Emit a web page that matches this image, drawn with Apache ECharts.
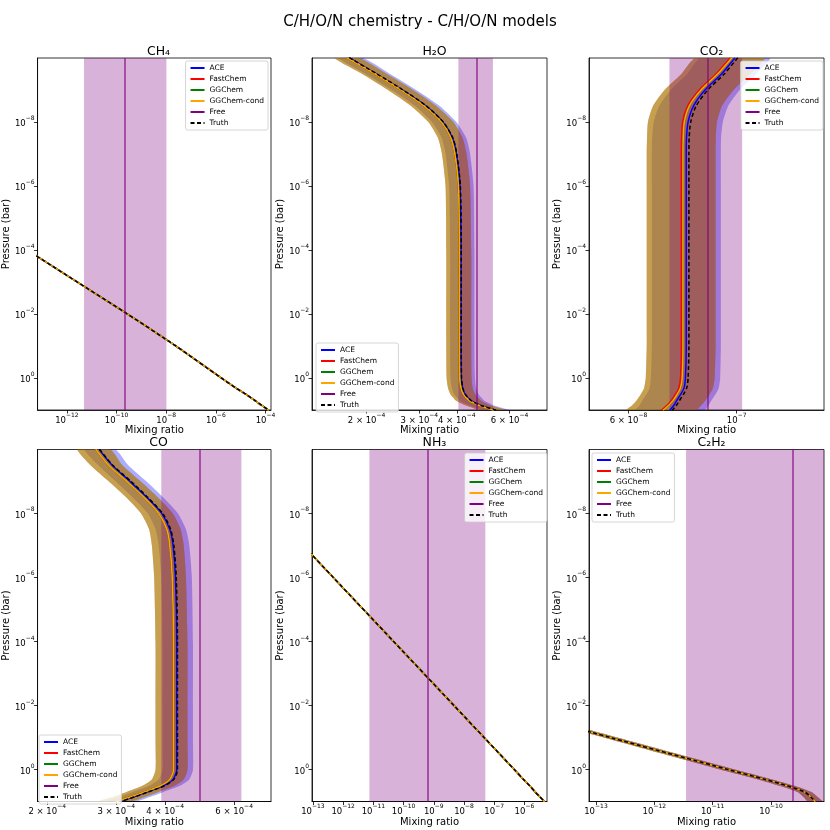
<!DOCTYPE html>
<html>
<head>
<meta charset="utf-8">
<script src="https://cdn.jsdelivr.net/npm/echarts@6.0.0/dist/echarts.min.js"></script>
<style>
  html, body { margin: 0; padding: 0; background: #fff; }
  #main { width: 830px; height: 830px; }
</style>
</head>
<body>
<div id="main"></div>
<script>
// pressure levels (bar) shared by every profile
const pressure = [1e-10, 3.16e-10, 1e-9, 3.16e-9, 1e-8, 3.16e-8, 1e-7, 1e-6, 1e-4, 1e-2, 1e-1, 1, 2, 3.16, 5, 7.08, 10];
const pressureLim = [1.02e-10, 9.8];
const pressureTicks = [1e-8, 1e-6, 1e-4, 1e-2, 1];

const modelNames = ['ACE', 'FastChem', 'GGChem', 'GGChem-cond'];
const modelColors = ['#0000ff', '#ff0000', '#008000', '#ffa500'];
const bandColors = ['rgba(0,0,255,0.32)', 'rgba(255,0,0,0.32)', 'rgba(0,128,0,0.32)', 'rgba(255,165,0,0.32)'];

// CH4
const ch4Truth = [null, null, null, null, null, null, null, 2.3e-18, 2.5e-14, 2.8e-10, 2.5e-8, 1.7e-6, 6.3e-6, 1.6e-5, 3.8e-5, 7.1e-5, 1.35e-4];
const ch4Free = [2.2e-10, 4.9e-12, 1.02e-8];
const ch4Lim = [6.6e-14, 1.66e-4];
const ch4Ticks = [1e-12, 1e-10, 1e-8, 1e-6, 1e-4];

// H2O
const h2oTruth = [1.75e-4, 2.16e-4, 2.64e-4, 3.16e-4, 3.60e-4, 3.88e-4, 4.00e-4, 4.11e-4, 4.14e-4, 4.14e-4, 4.14e-4, 4.15e-4, 4.19e-4, 4.27e-4, 4.47e-4, 4.82e-4, 5.41e-4];
const h2oAce = [1.75e-4, 2.15e-4, 2.63e-4, 3.15e-4, 3.59e-4, 3.87e-4, 3.99e-4, 4.10e-4, 4.13e-4, 4.13e-4, 4.13e-4, 4.14e-4, 4.18e-4, 4.26e-4, 4.46e-4, 4.81e-4, 5.40e-4];
const h2oEq = [1.72e-4, 2.13e-4, 2.60e-4, 3.11e-4, 3.55e-4, 3.82e-4, 3.94e-4, 4.05e-4, 4.08e-4, 4.08e-4, 4.08e-4, 4.09e-4, 4.13e-4, 4.21e-4, 4.40e-4, 4.75e-4, 5.33e-4];
const h2oAceLo = [1.61e-4, 1.98e-4, 2.42e-4, 2.90e-4, 3.30e-4, 3.56e-4, 3.67e-4, 3.77e-4, 3.80e-4, 3.80e-4, 3.80e-4, 3.81e-4, 3.85e-4, 3.92e-4, 4.10e-4, 4.43e-4, 4.97e-4];
const h2oAceHi = [1.94e-4, 2.39e-4, 2.92e-4, 3.50e-4, 3.98e-4, 4.30e-4, 4.43e-4, 4.55e-4, 4.58e-4, 4.58e-4, 4.58e-4, 4.60e-4, 4.64e-4, 4.73e-4, 4.95e-4, 5.34e-4, 5.99e-4];
const h2oEqLo = [1.56e-4, 1.93e-4, 2.35e-4, 2.81e-4, 3.21e-4, 3.46e-4, 3.57e-4, 3.67e-4, 3.69e-4, 3.69e-4, 3.69e-4, 3.70e-4, 3.74e-4, 3.81e-4, 3.98e-4, 4.30e-4, 4.82e-4];
const h2oEqHi = [1.88e-4, 2.33e-4, 2.85e-4, 3.41e-4, 3.89e-4, 4.18e-4, 4.31e-4, 4.43e-4, 4.47e-4, 4.47e-4, 4.47e-4, 4.48e-4, 4.52e-4, 4.61e-4, 4.82e-4, 5.20e-4, 5.84e-4];
const h2oFree = [4.64e-4, 4.05e-4, 5.28e-4];
const h2oLim = [1.315e-4, 8.0e-4];
const h2oTicks = [2e-4, 3e-4, 4e-4, 6e-4];

// CO2
const co2Truth = [1.005e-7, 9.44e-8, 8.73e-8, 8.26e-8, 8.05e-8, 7.99e-8, 7.98e-8, 7.98e-8, 7.98e-8, 7.98e-8, 7.98e-8, 7.95e-8, 7.90e-8, 7.78e-8, 7.63e-8, 7.52e-8, 7.38e-8];
const co2Ace = [9.92e-8, 9.32e-8, 8.62e-8, 8.16e-8, 7.95e-8, 7.89e-8, 7.88e-8, 7.88e-8, 7.88e-8, 7.88e-8, 7.88e-8, 7.85e-8, 7.80e-8, 7.68e-8, 7.53e-8, 7.43e-8, 7.29e-8];
const co2Fast = [9.70e-8, 9.08e-8, 8.39e-8, 7.94e-8, 7.75e-8, 7.71e-8, 7.70e-8, 7.70e-8, 7.70e-8, 7.70e-8, 7.70e-8, 7.67e-8, 7.61e-8, 7.49e-8, 7.34e-8, 7.19e-8, 7.00e-8];
const co2Gg = [9.78e-8, 9.15e-8, 8.46e-8, 8.00e-8, 7.81e-8, 7.77e-8, 7.76e-8, 7.76e-8, 7.76e-8, 7.76e-8, 7.76e-8, 7.73e-8, 7.67e-8, 7.55e-8, 7.40e-8, 7.25e-8, 7.06e-8];
const co2AceLo = [8.43e-8, 7.92e-8, 7.33e-8, 6.94e-8, 6.76e-8, 6.71e-8, 6.70e-8, 6.70e-8, 6.70e-8, 6.70e-8, 6.70e-8, 6.67e-8, 6.63e-8, 6.53e-8, 6.40e-8, 6.32e-8, 6.20e-8];
const co2AceHi = [1.169e-7, 1.098e-7, 1.015e-7, 9.61e-8, 9.37e-8, 9.29e-8, 9.28e-8, 9.28e-8, 9.28e-8, 9.28e-8, 9.28e-8, 9.25e-8, 9.19e-8, 9.05e-8, 8.87e-8, 8.75e-8, 8.59e-8];
const co2EqLo = [8.24e-8, 7.71e-8, 7.12e-8, 6.74e-8, 6.58e-8, 6.55e-8, 6.54e-8, 6.54e-8, 6.54e-8, 6.54e-8, 6.54e-8, 6.51e-8, 6.46e-8, 6.36e-8, 6.23e-8, 6.10e-8, 5.94e-8];
const co2EqHi = [1.140e-7, 1.067e-7, 9.86e-8, 9.33e-8, 9.11e-8, 9.06e-8, 9.05e-8, 9.05e-8, 9.05e-8, 9.05e-8, 9.05e-8, 9.01e-8, 8.94e-8, 8.80e-8, 8.62e-8, 8.45e-8, 8.23e-8];
const co2Free = [8.67e-8, 7.28e-8, 1.026e-7];
const co2Lim = [4.98e-8, 1.51e-7];
const co2Ticks = [6e-8, 1e-7];

// CO
const coTruth = [2.72e-4, 2.94e-4, 3.27e-4, 3.61e-4, 3.94e-4, 4.13e-4, 4.21e-4, 4.27e-4, 4.30e-4, 4.30e-4, 4.30e-4, 4.30e-4, 4.21e-4, 3.98e-4, 3.61e-4, 3.34e-4, 3.06e-4];
const coAce = [2.71e-4, 2.93e-4, 3.25e-4, 3.59e-4, 3.92e-4, 4.11e-4, 4.19e-4, 4.25e-4, 4.28e-4, 4.28e-4, 4.28e-4, 4.28e-4, 4.19e-4, 3.96e-4, 3.59e-4, 3.32e-4, 3.04e-4];
const coEq = [2.66e-4, 2.87e-4, 3.19e-4, 3.53e-4, 3.85e-4, 4.04e-4, 4.11e-4, 4.17e-4, 4.20e-4, 4.20e-4, 4.20e-4, 4.20e-4, 4.11e-4, 3.89e-4, 3.53e-4, 3.26e-4, 2.99e-4];
const coAceLo = [2.49e-4, 2.70e-4, 2.99e-4, 3.30e-4, 3.61e-4, 3.78e-4, 3.85e-4, 3.91e-4, 3.94e-4, 3.94e-4, 3.94e-4, 3.94e-4, 3.85e-4, 3.64e-4, 3.30e-4, 3.05e-4, 2.80e-4];
const coAceHi = [2.98e-4, 3.22e-4, 3.58e-4, 3.95e-4, 4.31e-4, 4.52e-4, 4.61e-4, 4.68e-4, 4.71e-4, 4.71e-4, 4.71e-4, 4.71e-4, 4.61e-4, 4.36e-4, 3.95e-4, 3.65e-4, 3.34e-4];
const coEqLo = [2.39e-4, 2.58e-4, 2.87e-4, 3.18e-4, 3.47e-4, 3.64e-4, 3.70e-4, 3.75e-4, 3.78e-4, 3.78e-4, 3.78e-4, 3.78e-4, 3.70e-4, 3.50e-4, 3.18e-4, 2.93e-4, 2.69e-4];
const coEqHi = [2.89e-4, 3.11e-4, 3.46e-4, 3.83e-4, 4.18e-4, 4.38e-4, 4.46e-4, 4.52e-4, 4.56e-4, 4.56e-4, 4.56e-4, 4.56e-4, 4.46e-4, 4.22e-4, 3.83e-4, 3.54e-4, 3.24e-4];
const coFree = [4.95e-4, 3.91e-4, 6.26e-4];
const coLim = [1.89e-4, 7.45e-4];
const coTicks = [2e-4, 3e-4, 4e-4, 6e-4];

// NH3
const nh3Truth = [null, null, null, null, 4.7e-15, 1.5e-14, 4.7e-14, 4.7e-13, 4.7e-11, 4.7e-9, 4.7e-8, 4.7e-7, 9.3e-7, 1.5e-6, 2.3e-6, 3.3e-6, 4.7e-6];
const nh3Free = [6.3e-10, 7.4e-12, 5.1e-8];
const nh3Lim = [9.3e-14, 5.6e-6];
const nh3Ticks = [1e-13, 1e-12, 1e-11, 1e-10, 1e-9, 1e-8, 1e-7, 1e-6];

// C2H2
const c2h2Truth = [null, null, null, null, null, null, null, null, 1.8e-19, 1.8e-15, 1.8e-13, 1.9e-11, 7.9e-11, 1.9e-10, 3.8e-10, 4.8e-10, 5.8e-10];
const c2h2Lo = [null, null, null, null, null, null, null, null, 1.4e-19, 1.4e-15, 1.4e-13, 1.4e-11, 6.0e-11, 1.4e-10, 2.9e-10, 3.6e-10, 4.4e-10];
const c2h2Hi = [null, null, null, null, null, null, null, null, 2.4e-19, 2.4e-15, 2.4e-13, 2.5e-11, 1.04e-10, 2.5e-10, 5.0e-10, 6.3e-10, 7.7e-10];
const c2h2Free = [2.4e-10, 3.5e-12, 1.5e-9];
const c2h2Lim = [7.6e-14, 8.1e-10];
const c2h2Ticks = [1e-13, 1e-12, 1e-11, 1e-10];

const panels = [
  { title: 'CH₄', truth: ch4Truth, models: [ch4Truth, ch4Truth, ch4Truth, ch4Truth], bands: null,
    free: ch4Free, lim: ch4Lim, ticks: ch4Ticks },
  { title: 'H₂O', truth: h2oTruth, models: [h2oAce, h2oEq, h2oEq, h2oEq],
    bands: [[h2oAceLo, h2oAceHi], [h2oEqLo, h2oEqHi], [h2oEqLo, h2oEqHi], [h2oEqLo, h2oEqHi]],
    free: h2oFree, lim: h2oLim, ticks: h2oTicks },
  { title: 'CO₂', truth: co2Truth, models: [co2Ace, co2Fast, co2Gg, co2Gg],
    bands: [[co2AceLo, co2AceHi], [co2EqLo, co2EqHi], [co2EqLo, co2EqHi], [co2EqLo, co2EqHi]],
    free: co2Free, lim: co2Lim, ticks: co2Ticks },
  { title: 'CO', truth: coTruth, models: [coAce, coEq, coEq, coEq],
    bands: [[coAceLo, coAceHi], [coEqLo, coEqHi], [coEqLo, coEqHi], [coEqLo, coEqHi]],
    free: coFree, lim: coLim, ticks: coTicks },
  { title: 'NH₃', truth: nh3Truth, models: [nh3Truth, nh3Truth, nh3Truth, nh3Truth], bands: null,
    free: nh3Free, lim: nh3Lim, ticks: nh3Ticks },
  { title: 'C₂H₂', truth: c2h2Truth, models: [c2h2Truth, c2h2Truth, c2h2Truth, c2h2Truth],
    bands: [[c2h2Lo, c2h2Hi], [c2h2Lo, c2h2Hi], [c2h2Lo, c2h2Hi], [c2h2Lo, c2h2Hi]],
    free: c2h2Free, lim: c2h2Lim, ticks: c2h2Ticks }
];

// layout of the 2x3 grid
const gridPos = [[36, 58], [312, 58], [589, 58], [36, 449.5], [312, 449.5], [589, 449.5]];
const gridW = 235, gridH = 352;
const legendPos = [
  { right: 562, top: 61 }, { left: 316, top: 343 }, { right: 7, top: 61 },
  { left: 39, top: 735 }, { right: 283, top: 453 }, { left: 592, top: 453 }
];
const FONT = 'DejaVu Sans';

const lg = Math.log10;
function fmtTick(v) {
  const e = Math.floor(v + 1e-6);
  const m = Math.round(Math.pow(10, v - e));
  const exp = String(e).replace('-', '−');
  return (m === 1 ? '{b|10}' : '{b|' + m + ' × 10}') + '{s|' + exp + '}';
}
const tickRich = {
  b: { fontSize: 8.5, color: '#000', fontFamily: FONT, verticalAlign: 'bottom', lineHeight: 13 },
  s: { fontSize: 6, color: '#000', fontFamily: FONT, verticalAlign: 'top', lineHeight: 8 }
};

function profile(arr) {
  const out = [];
  arr.forEach((v, j) => { if (v != null) out.push([lg(v), lg(pressure[j])]); });
  return out;
}

function bandSeries(i, lo, hi, color) {
  const rows = [];
  lo.forEach((v, j) => { if (v != null) rows.push([lg(v), lg(hi[j]), lg(pressure[j])]); });
  return {
    type: 'custom', xAxisIndex: i, yAxisIndex: i, z: 0, silent: true, clip: true,
    data: rows, encode: { x: [0, 1], y: 2 },
    renderItem: function (params, api) {
      if (params.dataIndex !== 0) return null;
      const pts = rows.map(r => api.coord([r[0], r[2]]))
        .concat(rows.slice().reverse().map(r => api.coord([r[1], r[2]])));
      return { type: 'polygon', shape: { points: pts, smooth: 0.2 }, style: { fill: color } };
    }
  };
}

const grid = [], xAxis = [], yAxis = [], series = [], legend = [];
const title = [{
  text: 'C/H/O/N chemistry - C/H/O/N models', left: 415, top: 10, textAlign: 'center',
  textStyle: { fontSize: 15, fontWeight: 'normal', color: '#000', fontFamily: FONT }
}];

panels.forEach((pn, i) => {
  const [gl, gt] = gridPos[i];
  grid.push({ left: gl, top: gt, width: gridW, height: gridH, show: true, borderColor: '#000', borderWidth: 0.8 });
  title.push({
    text: pn.title, left: gl + gridW / 2, top: gt - 18, textAlign: 'center',
    textStyle: { fontSize: 12.5, fontWeight: 'normal', color: '#000', fontFamily: FONT }
  });
  const xt = pn.ticks.map(lg);
  xAxis.push({
    type: 'value', gridIndex: i, min: lg(pn.lim[0]), max: lg(pn.lim[1]),
    name: 'Mixing ratio', nameLocation: 'middle', nameGap: 14,
    nameTextStyle: { fontSize: 10, color: '#000', fontFamily: FONT, verticalAlign: 'top' },
    axisLine: { show: true, onZero: false, lineStyle: { color: '#000', width: 0.8 } },
    axisTick: { show: true, customValues: xt, length: 3.5, lineStyle: { color: '#000', width: 0.8 } },
    axisLabel: { customValues: xt, formatter: fmtTick, margin: 2, rich: tickRich },
    splitLine: { show: false }
  });
  const yt = pressureTicks.map(lg);
  yAxis.push({
    type: 'value', gridIndex: i, inverse: true, min: lg(pressureLim[0]), max: lg(pressureLim[1]),
    name: 'Pressure (bar)', nameLocation: 'middle', nameGap: 24, nameRotate: 90,
    nameTextStyle: { fontSize: 10, color: '#000', fontFamily: FONT },
    axisLine: { show: true, onZero: false, lineStyle: { color: '#000', width: 0.8 } },
    axisTick: { show: true, customValues: yt, length: 3.5, lineStyle: { color: '#000', width: 0.8 } },
    axisLabel: { customValues: yt, formatter: fmtTick, margin: 3, rich: tickRich },
    splitLine: { show: false }
  });

  if (pn.bands) {
    pn.bands.forEach((b, k) => series.push(bandSeries(i, b[0], b[1], bandColors[k])));
  }

  series.push({
    name: 'Free', type: 'line', xAxisIndex: i, yAxisIndex: i, data: [], symbol: 'none', z: 2,
    lineStyle: { color: '#800080', width: 1.5 }, itemStyle: { color: '#800080' },
    markArea: {
      silent: true, z: 1, itemStyle: { color: 'rgba(128,0,128,0.3)' },
      data: [[{ xAxis: lg(pn.free[1]) }, { xAxis: lg(pn.free[2]) }]]
    },
    markLine: {
      silent: true, symbol: 'none', label: { show: false },
      lineStyle: { color: '#800080', width: 1.5, type: 'solid', opacity: 0.75 },
      data: [{ xAxis: lg(pn.free[0]) }]
    }
  });

  pn.models.forEach((m, k) => series.push({
    name: modelNames[k], type: 'line', xAxisIndex: i, yAxisIndex: i, z: 2,
    data: profile(m), symbol: 'none', smooth: 0.25,
    lineStyle: { color: modelColors[k], width: 1.5 }, itemStyle: { color: modelColors[k] }
  }));

  series.push({
    name: 'Truth', type: 'line', xAxisIndex: i, yAxisIndex: i, z: 3,
    data: profile(pn.truth), symbol: 'none', smooth: 0.25,
    lineStyle: { color: '#000', width: 1.5, type: [4, 2.5] }, itemStyle: { color: '#000' }
  });

  legend.push(Object.assign({
    data: modelNames.concat(['Free', 'Truth']), orient: 'vertical',
    itemWidth: 14, itemHeight: 8, itemGap: 3, padding: [3, 4, 3, 4],
    itemStyle: { opacity: 0, borderWidth: 0 },
    textStyle: { fontSize: 7.5, color: '#000', fontFamily: FONT },
    backgroundColor: 'rgba(255,255,255,0.8)', borderColor: '#ccc', borderWidth: 0.8, borderRadius: 2
  }, legendPos[i]));
});

const chart = echarts.init(document.getElementById('main'), null, { renderer: 'canvas' });
chart.setOption({
  animation: false,
  backgroundColor: '#fff',
  textStyle: { fontFamily: FONT },
  title, grid, xAxis, yAxis, legend, series
});
window.addEventListener('resize', function () { chart.resize(); });
</script>
</body>
</html>
